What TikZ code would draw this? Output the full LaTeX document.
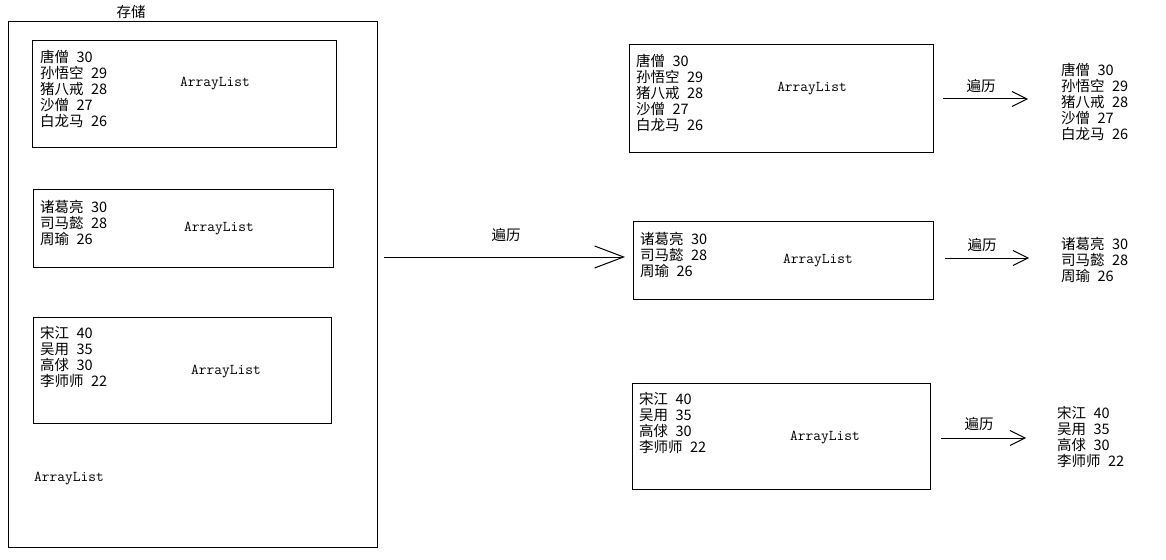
\documentclass[tikz,border=0pt]{standalone}
\usepackage{fontspec}
\setmainfont[WordSpace=2.3]{Noto Sans CJK SC}
\usetikzlibrary{arrows.meta}
\tikzset{
  box/.style={draw=black, line width=1pt, inner sep=0pt},
  txt/.style={anchor=north west, inner sep=0pt, align=left, font=\fontsize{14.5pt}{16pt}\selectfont},
  lbl/.style={inner sep=0pt, font=\fontsize{14.5pt}{16pt}\selectfont},
  al/.style={inner sep=0pt, yshift=-2pt, font=\ttfamily\fontsize{15pt}{16pt}\selectfont},
  bigarr/.style={line width=1pt, -{Straight Barb[length=29pt, width=22pt, line width=1pt]}},
  smallarr/.style={line width=1pt, -{Straight Barb[length=15pt, width=15pt, line width=1pt]}}
}
\begin{document}
\begin{tikzpicture}[x=1pt, y=-1pt]
\useasboundingbox (0,0) rectangle (1166,559);
% left outer container
\draw[box] (8,22) rectangle (377,547);
\node[lbl] (store) at (131,12) {存储};
\node[al] (outerlbl) at (69,477) {ArrayList};
% left inner boxes
\draw[box] (32,41) rectangle (336,147);
\node[txt] (l1t) at (40,49.5) {唐僧 30\\孙悟空 29\\猪八戒 28\\沙僧 27\\白龙马 26};
\node[al] (l1a) at (215,82) {ArrayList};

\draw[box] (33,189) rectangle (333,267);
\node[txt] (l2t) at (40,200.5) {诸葛亮 30\\司马懿 28\\周瑜 26};
\node[al] (l2a) at (219,227) {ArrayList};

\draw[box] (33,317) rectangle (331,423);
\node[txt] (l3t) at (40,326.5) {宋江 40\\吴用 35\\高俅 30\\李师师 22};
\node[al] (l3a) at (226,370) {ArrayList};

% middle arrow
\coordinate (ms) at (384,257);
\coordinate (me) at (625,257);
\draw[bigarr] (ms) -- (me);
\node[lbl] (ml) at (506,235) {遍历};

% right boxes
\draw[box] (629,45) rectangle (933,152);
\node[txt] (r1t) at (636,53.5) {唐僧 30\\孙悟空 29\\猪八戒 28\\沙僧 27\\白龙马 26};
\node[al] (r1a) at (812,87) {ArrayList};

\draw[box] (633,221) rectangle (933,299);
\node[txt] (r2t) at (640,232.5) {诸葛亮 30\\司马懿 28\\周瑜 26};
\node[al] (r2a) at (818,259) {ArrayList};

\draw[box] (632,383) rectangle (930,489);
\node[txt] (r3t) at (639,392.5) {宋江 40\\吴用 35\\高俅 30\\李师师 22};
\node[al] (r3a) at (825,436) {ArrayList};

% right arrows
\coordinate (a1s) at (943,99);
\coordinate (a1e) at (1028,99);
\draw[smallarr] (a1s) -- (a1e);
\node[lbl] (a1l) at (981,86) {遍历};

\coordinate (a2s) at (945,258);
\coordinate (a2e) at (1029,258);
\draw[smallarr] (a2s) -- (a2e);
\node[lbl] (a2l) at (982,245) {遍历};

\coordinate (a3s) at (941,438);
\coordinate (a3e) at (1026,438);
\draw[smallarr] (a3s) -- (a3e);
\node[lbl] (a3l) at (979,424) {遍历};

% outputs
\node[txt] (o1) at (1061,62.5) {唐僧 30\\孙悟空 29\\猪八戒 28\\沙僧 27\\白龙马 26};
\node[txt] (o2) at (1061,237.5) {诸葛亮 30\\司马懿 28\\周瑜 26};
\node[txt] (o3) at (1057,406.5) {宋江 40\\吴用 35\\高俅 30\\李师师 22};
\end{tikzpicture}
\end{document}
